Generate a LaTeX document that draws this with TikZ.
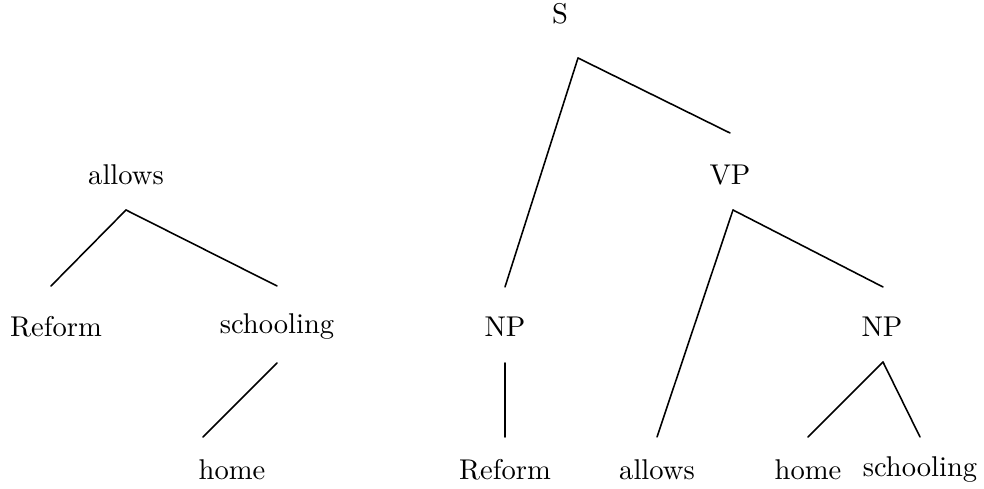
\documentclass[tikz,border=0pt]{standalone}
\usetikzlibrary{positioning}

\begin{document}
\begin{tikzpicture}[
    x=0.35pt, y=-0.35pt,
    word/.style={inner sep=0pt, font=\normalsize},
    branch/.style={line width=0.55pt, line cap=round}
  ]
    \useasboundingbox (0,0) rectangle (984,489);

    % Dependency tree (left)
    \node[word] (dallows)  at (126,175) {allows};
    \node[word] (dreform)  at (56,327)  {Reform};
    \node[word] (dschool)  at (277,327) {schooling};
    \node[word] (dhome)    at (232,470) {home};

    % Constituency tree (right)
    \node[word] (s)        at (560,14)  {S};
    \node[word] (vp)       at (730,175) {VP};
    \node[word] (np1)      at (505,327) {NP};
    \node[word] (np2)      at (882,327) {NP};
    \node[word] (creform)  at (505,470) {Reform};
    \node[word] (callows)  at (657,470) {allows};
    \node[word] (chome)    at (808,470) {home};
    \node[word] (cschool)  at (920,470) {schooling};

    % Branch end points (lines stop short of the words)
    \coordinate (dallows-b) at (126,210);
    \coordinate (dreform-t) at (51,286);
    \coordinate (dschool-t) at (277,286);
    \coordinate (dschool-b) at (277,363);
    \coordinate (dhome-t)   at (203,437);
    \coordinate (s-b)       at (578,58);
    \coordinate (vp-t)      at (730,133);
    \coordinate (vp-b)      at (733,210);
    \coordinate (np1-t)     at (505,287);
    \coordinate (np1-b)     at (505,363);
    \coordinate (np2-t)     at (883,287);
    \coordinate (np2-b)     at (883,362);
    \coordinate (creform-t) at (505,437);
    \coordinate (callows-t) at (657,437);
    \coordinate (chome-t)   at (808,437);
    \coordinate (cschool-t) at (920,437);

    % Branches
    \foreach \p/\c in {dallows/dreform, dallows/dschool, dschool/dhome,
                       s/np1, s/vp, vp/callows, vp/np2,
                       np1/creform, np2/chome, np2/cschool} {
      \draw[branch] (\p-b) -- (\c-t);
    }
  \end{tikzpicture}
\end{document}
